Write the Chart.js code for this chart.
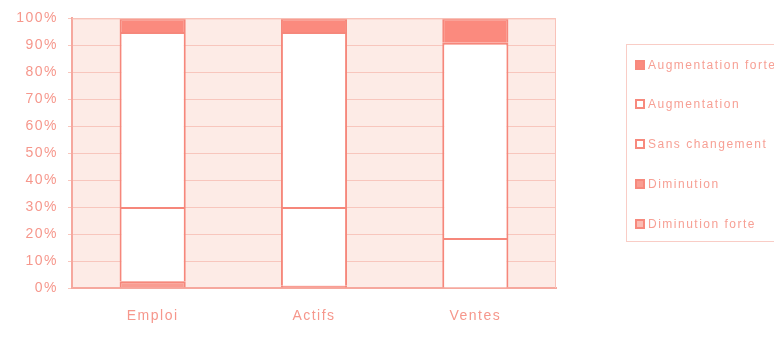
<!DOCTYPE html>
<html>
<head>
<meta charset="utf-8">
<script src="https://cdn.jsdelivr.net/npm/chart.js@4/dist/chart.umd.min.js"></script>
<style>
  html, body { margin: 0; padding: 0; background: #ffffff; overflow: hidden; }
  #wrap { position: relative; width: 774px; height: 337px; overflow: hidden; }
  #c { position: absolute; left: 0; top: 0; }
  #legend {
    position: absolute; left: 626px; top: 44px; width: 175px; height: 198px;
    border: 1px solid #f9cdc6; box-sizing: border-box;
    font-family: "Liberation Sans", Arial, sans-serif; font-size: 12px;
    letter-spacing: 1.5px; color: #f7a095;
  }
  .item { position: absolute; left: 8px; height: 14px; line-height: 14px; white-space: nowrap; }
  .sw { position: absolute; left: 0; top: 2px; width: 10px; height: 10px; box-sizing: border-box; border: 2px solid #f7897d; }
  .lbl { position: absolute; left: 13px; top: 0; }
</style>
</head>
<body>
<div id="wrap">
  <canvas id="c" width="774" height="337"></canvas>
  <div id="legend"></div>
</div>
<script>
// ---- data ----
const categories = ["Emploi", "Actifs", "Ventes"];
const seriesNames = ["Diminution forte", "Diminution", "Sans changement", "Augmentation", "Augmentation forte"];
const diminutionForte   = [0, 0, 0];
const diminution        = [2.5, 0.8, 0];
const sansChangement    = [27.5, 29.2, 18.5];
const augmentation      = [65, 65, 72.5];
const augmentationForte = [5, 5, 9];
const yTicks = [0, 10, 20, 30, 40, 50, 60, 70, 80, 90, 100];

const seriesValues = [diminutionForte, diminution, sansChangement, augmentation, augmentationForte];
const fills = ["#fbbcb3", "#f99d92", "#ffffff", "#ffffff", "#fb8a7e"];
const borderCol = "#f6877b";
const textCol = "#f6978c";

const datasets = seriesNames.map((name, i) => ({
  label: name,
  data: seriesValues[i],
  backgroundColor: fills[i],
  borderColor: borderCol,
  borderWidth: ctx => (ctx.raw === 0 ? 0 : 2),
  borderSkipped: "bottom",
  barPercentage: 0.82,
  categoryPercentage: 0.5
}));

const plotBg = {
  id: "plotBg",
  beforeDraw(chart) {
    const { ctx, chartArea: a } = chart;
    ctx.save();
    ctx.fillStyle = "#fdebe6";
    ctx.fillRect(a.left, a.top, a.right - a.left, a.bottom - a.top);
    ctx.restore();
    ctx.letterSpacing = "1.5px";
  },
  afterDatasetsDraw(chart) {
    const { ctx, chartArea: a } = chart;
    ctx.save();
    ctx.strokeStyle = "#f9c2b9";
    ctx.lineWidth = 1;
    ctx.beginPath();
    ctx.moveTo(a.left, a.top + 0.5);
    ctx.lineTo(a.right - 0.5, a.top + 0.5);
    ctx.lineTo(a.right - 0.5, a.bottom);
    ctx.stroke();
    ctx.restore();
  }
};

new Chart(document.getElementById("c"), {
  type: "bar",
  data: { labels: categories, datasets },
  options: {
    responsive: false,
    devicePixelRatio: 1,
    animation: false,
    layout: { padding: { top: 17, right: 218, bottom: 0, left: 0 } },
    plugins: { legend: { display: false }, tooltip: { enabled: false } },
    scales: {
      x: {
        stacked: true,
        grid: { display: false, drawTicks: false },
        border: { display: true, color: "#f6a89e", width: 2 },
        ticks: { color: textCol, font: { family: "Liberation Sans", size: 14 }, padding: 20 },
        afterFit(s) { s.height = 49; }
      },
      y: {
        stacked: true,
        min: 0, max: 100,
        afterBuildTicks(s) { s.ticks = yTicks.map(v => ({ value: v })); },
        grid: { color: "#f8c6bd", lineWidth: 1, tickLength: 4, drawTicks: true },
        border: { display: true, color: "#f6a89e", width: 2 },
        ticks: {
          color: textCol, font: { family: "Liberation Sans", size: 14 }, padding: 10,
          callback: v => v + "%"
        },
        afterFit(s) { s.width = 72; }
      }
    }
  },
  plugins: [plotBg]
});

// legend (top-down: reverse of stacking order)
const legendTops = [13, 52, 92, 132, 172];
const lg = document.getElementById("legend");
seriesNames.slice().reverse().forEach((name, k) => {
  const i = seriesNames.length - 1 - k;
  const it = document.createElement("div");
  it.className = "item";
  it.style.top = legendTops[k] + "px";
  const sw = document.createElement("span");
  sw.className = "sw";
  sw.style.background = fills[i];
  const t = document.createElement("span");
  t.className = "lbl";
  t.textContent = name;
  it.appendChild(sw); it.appendChild(t);
  lg.appendChild(it);
});
</script>
</body>
</html>
